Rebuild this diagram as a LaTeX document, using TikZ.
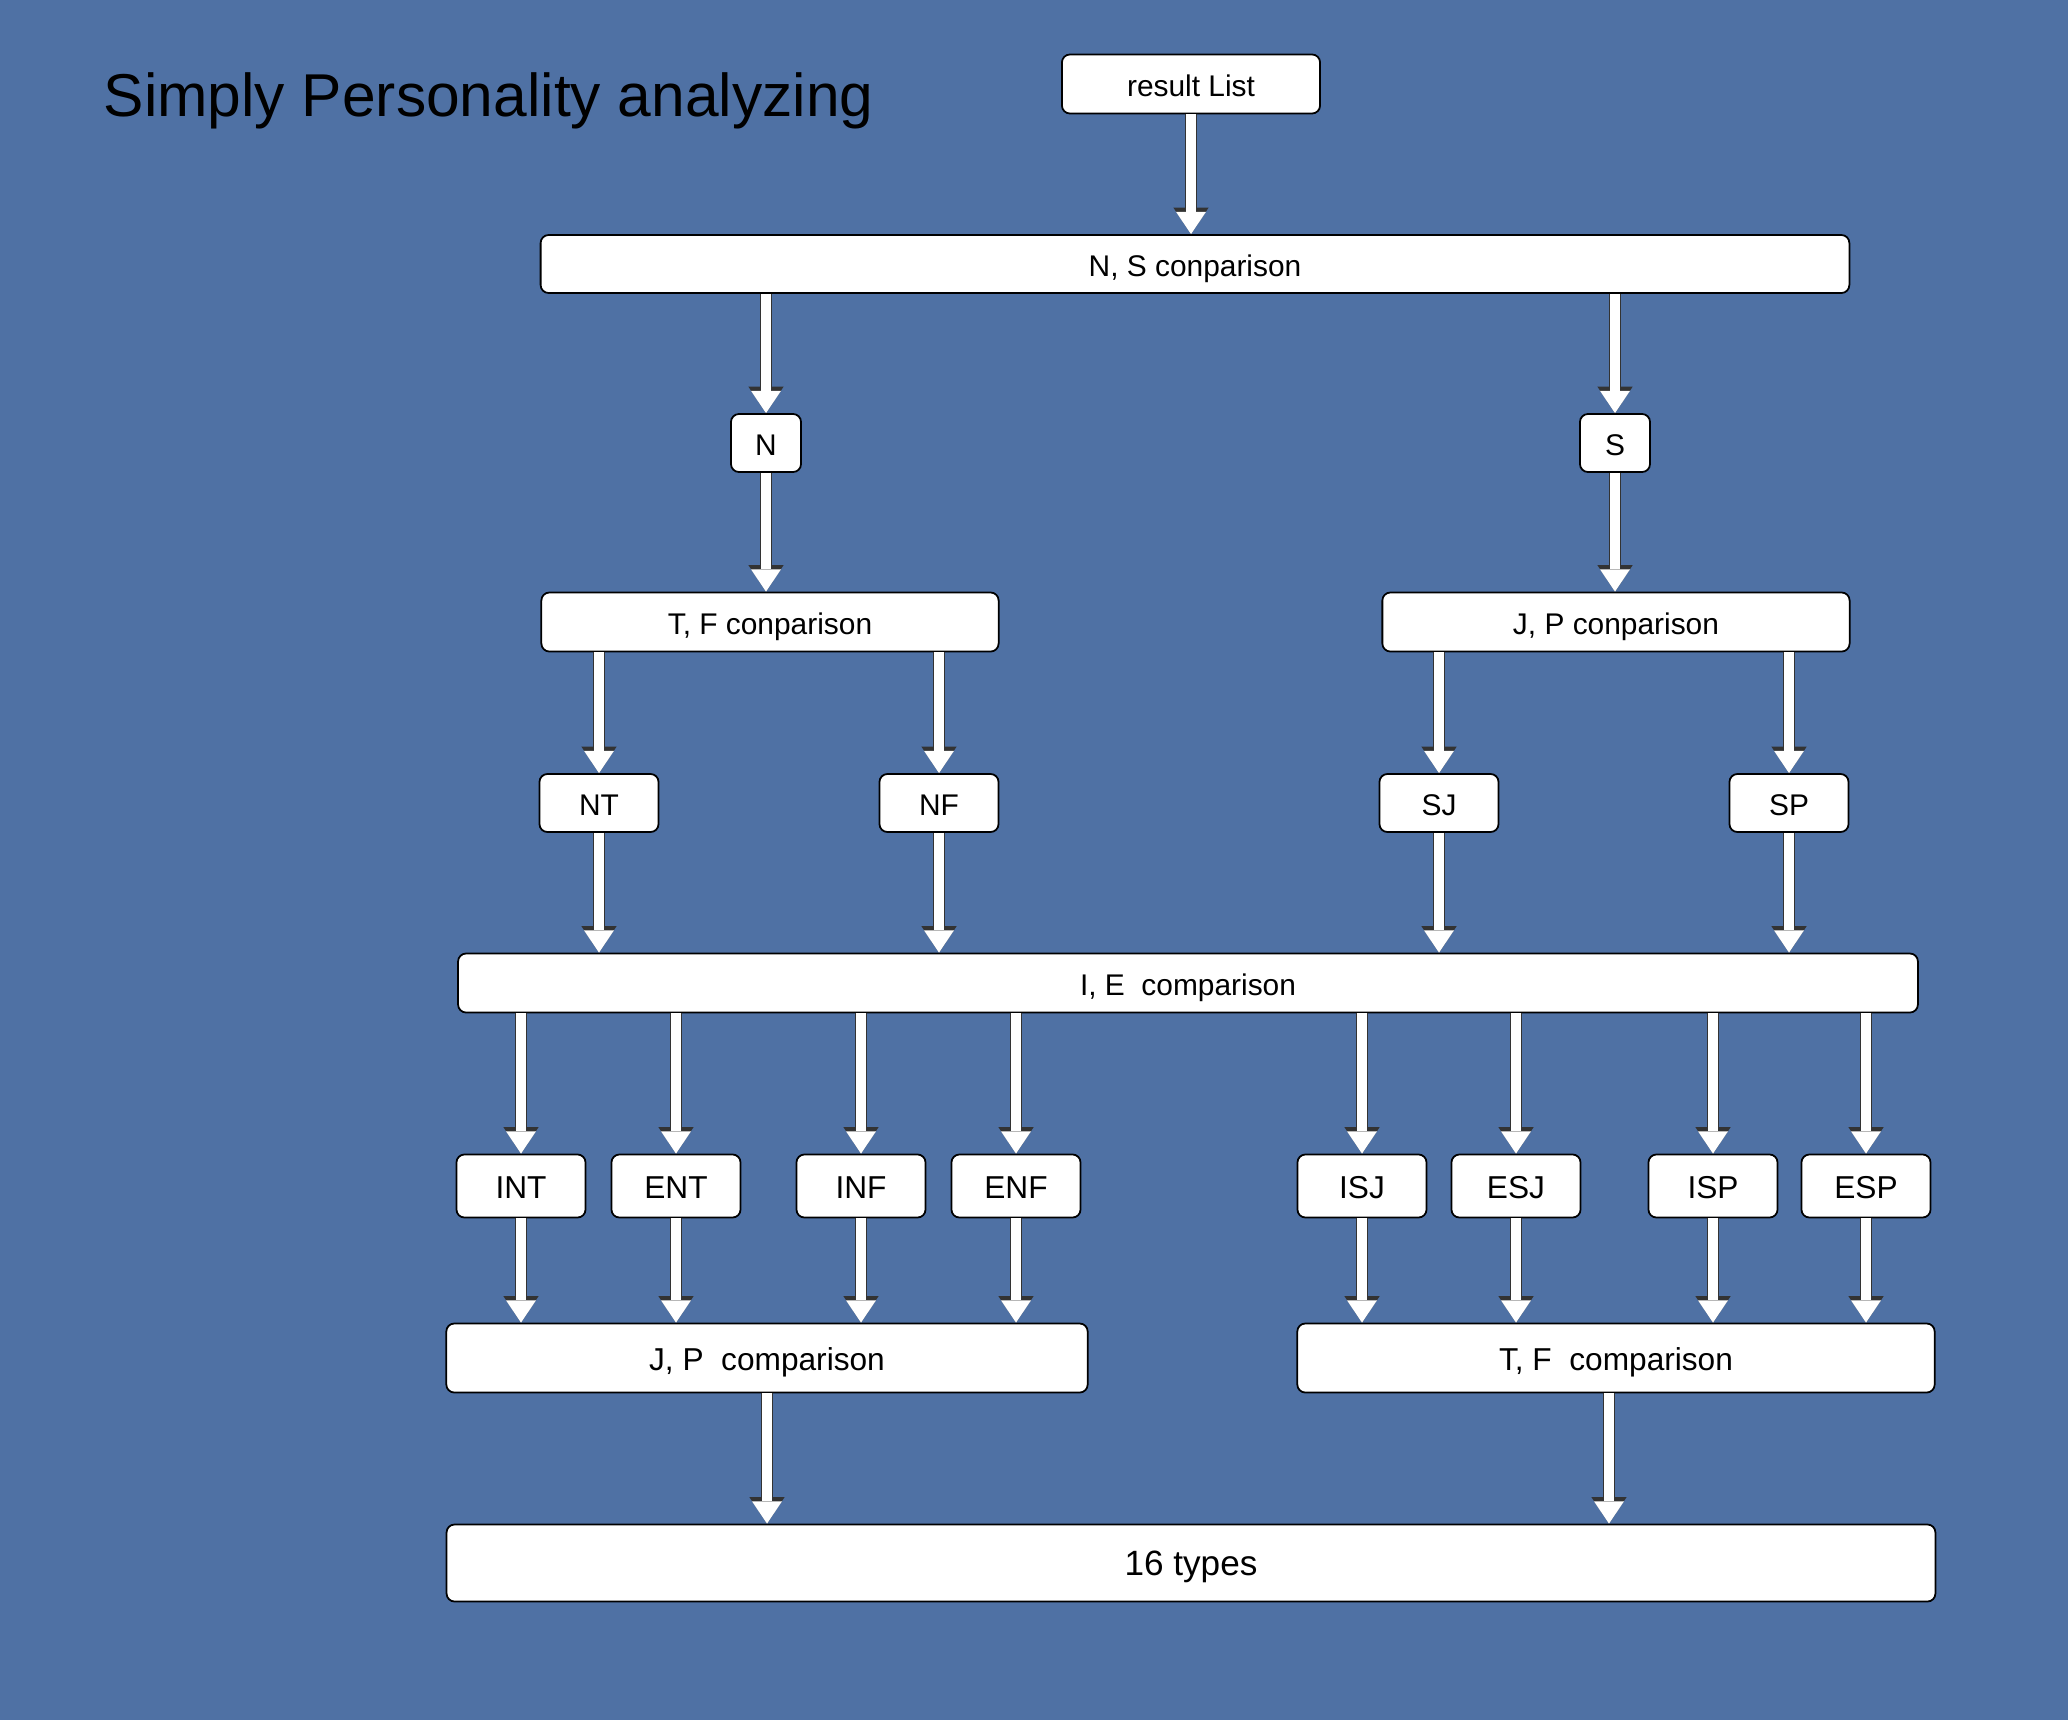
\documentclass[tikz,border=0pt]{standalone}
\usepackage{fontspec}
\setmainfont{Liberation Sans}
\usetikzlibrary{arrows.meta}
\definecolor{bgblue}{RGB}{79,113,164}

\begin{document}
\begin{tikzpicture}[x=0.01cm, y=-0.01cm,
  box/.style={draw=black, line width=0.5pt, fill=white, rounded corners=0.08cm,
    inner sep=0pt, text height=0.9em, text depth=0.18em, font=\fontsize{8.5}{10}\selectfont},
  flow/.style={white, line width=2.6pt, -{Triangle[width=8.5pt,length=6.3pt,line width=0pt]},
    preaction={draw=black!80, line width=3.5pt, -{Triangle[width=10pt,length=7.5pt,line width=0pt]}}}]
\fill[bgblue] (0,0) rectangle (2068,1720);
\node  (title)[anchor=base west, inner sep=0pt, font=\fontsize{17.2}{20}\selectfont] at (103,116) {Simply Personality analyzing};
% top part
\node  (res)[box, minimum width=2.58cm, minimum height=0.59cm] at (1191,84) {result List};
\node  (ns)[box, minimum width=13.08cm, minimum height=0.58cm] at (1195,264) {N, S conparison};
\node  (n)[box, minimum width=0.70cm, minimum height=0.58cm] at (766,443) {N};
\node  (s)[box, minimum width=0.70cm, minimum height=0.58cm] at (1615,443) {S};
\node  (tf)[box, minimum width=4.57cm, minimum height=0.59cm] at (770,622) {T, F conparison};
\node  (jp)[box, minimum width=4.67cm, minimum height=0.59cm] at (1616,622) {J, P conparison};
\node  (nt)[box, minimum width=1.19cm, minimum height=0.58cm] at (599,803) {NT};
\node  (nf)[box, minimum width=1.19cm, minimum height=0.58cm] at (939,803) {NF};
\node  (sj)[box, minimum width=1.19cm, minimum height=0.58cm] at (1439,803) {SJ};
\node  (sp)[box, minimum width=1.19cm, minimum height=0.58cm] at (1789,803) {SP};
\node  (ie)[box, minimum width=14.59cm, minimum height=0.59cm] at (1188,983) {I, E\ \ comparison};
% the eight types
\node  (int)[box, minimum width=1.29cm, minimum height=0.63cm, font=\fontsize{9}{11}\selectfont] at (521,1186) {INT};
\node  (ent)[box, minimum width=1.29cm, minimum height=0.63cm, font=\fontsize{9}{11}\selectfont] at (676,1186) {ENT};
\node  (inf)[box, minimum width=1.29cm, minimum height=0.63cm, font=\fontsize{9}{11}\selectfont] at (861,1186) {INF};
\node  (enf)[box, minimum width=1.29cm, minimum height=0.63cm, font=\fontsize{9}{11}\selectfont] at (1016,1186) {ENF};
\node  (isj)[box, minimum width=1.29cm, minimum height=0.63cm, font=\fontsize{9}{11}\selectfont] at (1362,1186) {ISJ};
\node  (esj)[box, minimum width=1.29cm, minimum height=0.63cm, font=\fontsize{9}{11}\selectfont] at (1516,1186) {ESJ};
\node  (isp)[box, minimum width=1.29cm, minimum height=0.63cm, font=\fontsize{9}{11}\selectfont] at (1713,1186) {ISP};
\node  (esp)[box, minimum width=1.29cm, minimum height=0.63cm, font=\fontsize{9}{11}\selectfont] at (1866,1186) {ESP};
\node  (jp2)[box, minimum width=6.41cm, minimum height=0.69cm, font=\fontsize{9}{11}\selectfont] at (767,1358) {J, P\ \ comparison};
\node  (tf2)[box, minimum width=6.37cm, minimum height=0.69cm, font=\fontsize{9}{11}\selectfont] at (1616,1358) {T, F\ \ comparison};
\node  (types)[box, minimum width=14.88cm, minimum height=0.77cm, font=\fontsize{10}{12}\selectfont] at (1191,1563) {16 types};
% arrows
\draw[flow] (res) -- (res |- ns.north);
\draw[flow] (ns.south -| n) -- (n);
\draw[flow] (ns.south -| s) -- (s);
\draw[flow] (n) -- (n |- tf.north);
\draw[flow] (s) -- (s |- jp.north);
\draw[flow] (tf.south -| nt) -- (nt);
\draw[flow] (tf.south -| nf) -- (nf);
\draw[flow] (jp.south -| sj) -- (sj);
\draw[flow] (jp.south -| sp) -- (sp);
\foreach \a in {nt,nf,sj,sp}
  \draw[flow] (\a) -- (\a |- ie.north);
\foreach \a in {int,ent,inf,enf,isj,esj,isp,esp}
  \draw[flow] (ie.south -| \a) -- (\a);
\foreach \a in {int,ent,inf,enf}
  \draw[flow] (\a) -- (\a |- jp2.north);
\foreach \a in {isj,esj,isp,esp}
  \draw[flow] (\a) -- (\a |- tf2.north);
\draw[flow] (jp2) -- (jp2 |- types.north);
\draw[flow] ([xshift=-0.07cm]tf2.south) -- ([xshift=-0.07cm]tf2.south |- types.north);
\end{tikzpicture}
\end{document}
